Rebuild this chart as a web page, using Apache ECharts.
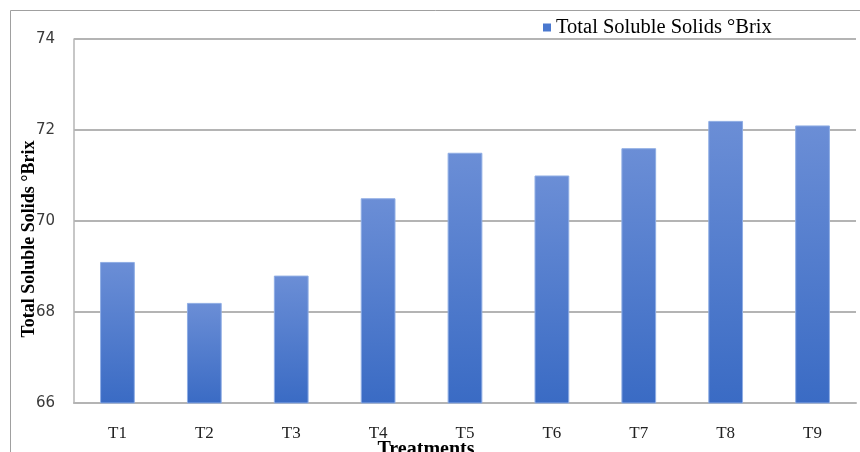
<!DOCTYPE html>
<html>
<head>
<meta charset="utf-8">
<script src="https://cdn.jsdelivr.net/npm/echarts@6/dist/echarts.min.js"></script>
<style>
  html, body { margin: 0; padding: 0; background: #fff; }
  #chart { width: 860px; height: 452px; }
</style>
</head>
<body>
<div id="chart"></div>
<script>
// Treatment labels and mean total soluble solids (°Brix)
const treatments = ['T1', 'T2', 'T3', 'T4', 'T5', 'T6', 'T7', 'T8', 'T9'];
const tssValues = [69.1, 68.2, 68.8, 70.5, 71.5, 71.0, 71.6, 72.2, 72.1];
const yTicks = { min: 66, max: 74, step: 2 };
const seriesName = 'Total Soluble Solids °Brix';

const chart = echarts.init(document.getElementById('chart'), null, { renderer: 'canvas' });

const barFill = new echarts.graphic.LinearGradient(0, 0, 0, 1, [
  { offset: 0, color: '#6b8ed6' },
  { offset: 1, color: '#3a6bc4' }
]);

chart.setOption({
  animation: false,
  backgroundColor: '#ffffff',
  grid: { left: 74, right: 4, top: 39, bottom: 49, containLabel: false },
  legend: {
    left: 543,
    top: 17,
    padding: 0,
    icon: 'rect',
    itemWidth: 8,
    itemHeight: 8,
    itemGap: 10,
    textStyle: { fontFamily: 'Liberation Serif', fontSize: 20.5, color: '#000' },
    data: [{ name: seriesName, itemStyle: { color: '#4a78cf', borderWidth: 0 } }]
  },
  xAxis: {
    type: 'category',
    data: treatments,
    axisLine: { show: true, lineStyle: { color: '#b4b4b4', width: 2 } },
    axisTick: { show: false },
    axisLabel: {
      margin: 22,
      fontFamily: 'Liberation Serif',
      fontSize: 17,
      color: '#222'
    },
    splitLine: { show: false }
  },
  yAxis: {
    type: 'value',
    min: yTicks.min,
    max: yTicks.max,
    interval: yTicks.step,
    axisLine: { show: true, lineStyle: { color: '#b4b4b4', width: 1.5 } },
    axisTick: { show: false },
    axisLabel: {
      margin: 19,
      fontFamily: 'DejaVu Sans',
      fontSize: 15,
      color: '#3a3a3a'
    },
    splitLine: { show: true, lineStyle: { color: '#b4b4b4', width: 2 } }
  },
  series: [{
    name: seriesName,
    type: 'bar',
    data: tssValues,
    barWidth: '40%',
    itemStyle: {
      color: barFill,
      borderColor: '#8fade4',
      borderWidth: 1
    }
  }],
  graphic: [
    {
      type: 'rect',
      silent: true,
      shape: { x: 10.5, y: 10.5, width: 900, height: 500 },
      style: { fill: 'none', stroke: '#a0a0a0', lineWidth: 1 },
      z: -1
    },
    {
      type: 'text',
      x: 29,
      y: 239,
      rotation: Math.PI / 2,
      style: {
        text: 'Total Soluble Solids °Brix',
        fontFamily: 'Liberation Serif',
        fontWeight: 'bold',
        fontSize: 18,
        fill: '#000',
        align: 'center',
        verticalAlign: 'middle'
      }
    },
    {
      type: 'text',
      x: 426,
      y: 450,
      style: {
        text: 'Treatments',
        fontFamily: 'Liberation Serif',
        fontWeight: 'bold',
        fontSize: 20,
        fill: '#000',
        align: 'center',
        verticalAlign: 'middle'
      }
    }
  ]
});
</script>
</body>
</html>
